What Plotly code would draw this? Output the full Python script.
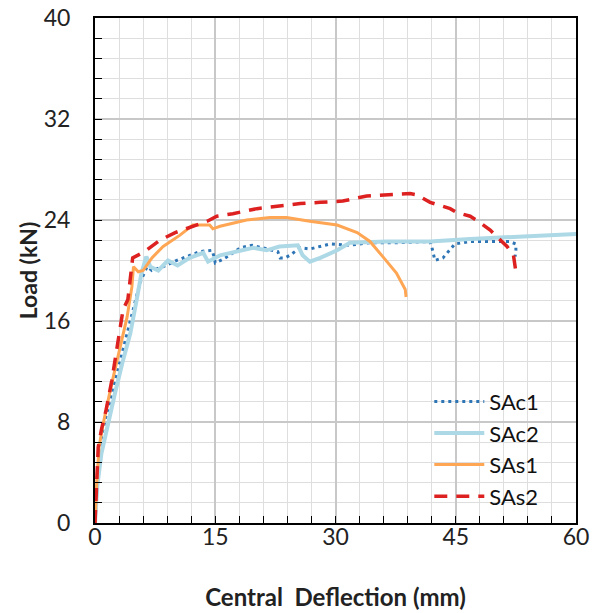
import plotly.graph_objects as go

# Load–deflection curves
sac1_x = [0, 0.3, 0.7, 1.2, 2.0, 3.0, 4.0, 5.0, 5.6, 6.0, 6.5, 7.1, 8.5, 10.2, 11.8, 13.1, 14.6, 14.8, 15.0,
          16.0, 17.0, 18.1, 19.6, 21.0, 22.3, 22.8, 23.1, 23.7, 24.3, 25.6, 26.8, 29.3, 31.8, 34.3, 37.6,
          41.8, 42.0, 42.4, 43.4, 44.3, 44.9, 46.8, 50.1, 51.7, 52.5, 52.5, 52.4]
sac1_y = [0, 3.5, 6.5, 8.0, 10.0, 12.5, 15.0, 17.7, 19.0, 19.6, 20.3, 20.0, 20.3, 20.8, 21.2, 21.5, 21.6, 21.2, 20.6,
          20.9, 21.3, 21.8, 22.0, 21.8, 21.6, 21.5, 21.0, 21.0, 21.2, 21.8, 21.7, 22.1, 22.0, 22.2, 22.2,
          22.3, 21.9, 20.8, 21.0, 21.7, 22.1, 22.3, 22.3, 22.3, 22.1, 21.6, 21.1]

sac2_x = [0, 0.3, 0.8, 1.5, 2.5, 3.5, 4.4, 5.2, 5.8, 6.4, 6.9, 7.9, 9.1, 10.3, 11.8, 13.5, 14.1, 15.6, 17.7,
          19.7, 21.4, 23.0, 25.3, 25.9, 26.8, 28.1, 30.2, 31.8, 36.4, 41.8, 46.8, 50.5, 54.6, 59.6, 60.5]
sac2_y = [0, 3.0, 5.5, 7.6, 10.3, 12.9, 15.0, 17.7, 19.8, 21.1, 20.3, 20.0, 20.8, 20.4, 21.0, 21.4, 20.7, 21.2, 21.5,
          21.8, 21.6, 21.9, 22.0, 21.2, 20.7, 21.0, 21.6, 22.2, 22.3, 22.3, 22.5, 22.6, 22.7, 22.9, 22.9]

sas1_x = [0, 0.2, 0.5, 1.0, 2.0, 3.0, 4.0, 4.6, 4.8, 5.4, 6.0, 7.1, 8.5, 10.6, 12.2, 14.3, 14.7, 15.6, 18.9,
          21.8, 23.9, 26.8, 30.2, 32.7, 34.3, 35.9, 37.6, 38.7, 38.8]
sas1_y = [0, 3.0, 6.0, 7.8, 10.8, 13.6, 16.3, 18.7, 20.3, 19.9, 20.0, 21.0, 21.9, 22.8, 23.6, 23.6, 23.3, 23.5, 24.0,
          24.2, 24.2, 23.9, 23.6, 23.0, 22.3, 21.1, 19.8, 18.5, 17.9]

sas2_x = [0, 0.2, 0.4, 0.8, 1.4, 2.1, 3.1, 3.5, 4.1, 4.7, 6.2, 8.1, 10.0, 12.2, 14.0, 15.2, 17.2, 20.2, 22.7,
          25.6, 28.1, 30.9, 33.9, 36.4, 39.3, 40.1, 41.8, 44.3, 45.1, 46.8, 47.8, 49.3, 50.1, 51.4, 52.2, 52.5]
sas2_y = [0, 3.0, 6.0, 7.4, 9.0, 11.3, 15.1, 16.9, 17.7, 21.0, 21.5, 22.4, 23.0, 23.5, 23.9, 24.3, 24.5, 24.9, 25.1,
          25.3, 25.4, 25.5, 25.9, 26.0, 26.1, 26.0, 25.4, 24.9, 24.6, 24.3, 23.9, 23.2, 22.7, 21.9, 21.2, 19.9]

x_ticks = [0, 15, 30, 45, 60]
y_ticks = [0, 8, 16, 24, 32, 40]

FONT = "Lato, 'Open Sans', sans-serif"

fig = go.Figure()
fig.add_trace(go.Scatter(x=sac1_x, y=sac1_y, mode="lines", name="SAc1",
                         line=dict(color="#2E75B6", width=3, dash="3px,4px")))
fig.add_trace(go.Scatter(x=sac2_x, y=sac2_y, mode="lines", name="SAc2",
                         line=dict(color="#ADD8E6", width=4)))
fig.add_trace(go.Scatter(x=sas1_x, y=sas1_y, mode="lines", name="SAs1",
                         line=dict(color="#FFA654", width=3)))
fig.add_trace(go.Scatter(x=sas2_x, y=sas2_y, mode="lines", name="SAs2",
                         line=dict(color="#DD2020", width=3.5, dash="13px,9px")))

fig.update_layout(
    width=592, height=613,
    margin=dict(l=95, r=16, t=18, b=90, autoexpand=False),
    paper_bgcolor="white", plot_bgcolor="white",
    font=dict(family=FONT, color="#222"),
    showlegend=True,
    legend=dict(x=0.695, y=0.282, xanchor="left", yanchor="top",
                bgcolor="rgba(255,255,255,0)", font=dict(size=22, family=FONT, color="#111"),
                tracegroupgap=0, itemwidth=50),
)
fig.update_xaxes(
    range=[0, 60], tickvals=x_ticks, ticktext=[str(v) for v in x_ticks],
    showline=True, linecolor="black", linewidth=2, mirror=True,
    showgrid=True, gridcolor="#C8C8C8", gridwidth=1.5,
    ticks="inside", ticklen=7, tickcolor="black", tickwidth=1,
    minor=dict(dtick=3, showgrid=True, gridcolor="#DEDEDE", gridwidth=1,
               ticks="inside", ticklen=7, tickcolor="black"),
    tickfont=dict(size=23, family=FONT), ticklabelstandoff=-8,
    title=dict(text="<b>Central&nbsp; Deflection (mm)</b>", font=dict(size=24, family=FONT), standoff=41),
    zeroline=False, automargin=False,
)
fig.update_yaxes(
    range=[0, 40], tickvals=y_ticks, ticktext=[str(v) for v in y_ticks],
    showline=True, linecolor="black", linewidth=2, mirror=True,
    showgrid=True, gridcolor="#C8C8C8", gridwidth=1.5,
    ticks="inside", ticklen=7, tickcolor="black", tickwidth=1,
    minor=dict(dtick=1.6, showgrid=True, gridcolor="#DEDEDE", gridwidth=1,
               ticks="inside", ticklen=7, tickcolor="black"),
    tickfont=dict(size=23, family=FONT), ticklabelstandoff=18,
    title=dict(text="<b>Load (kN)</b>", font=dict(size=23, family=FONT), standoff=0),
    zeroline=False, automargin=False,
)

fig.write_html("out.html")
